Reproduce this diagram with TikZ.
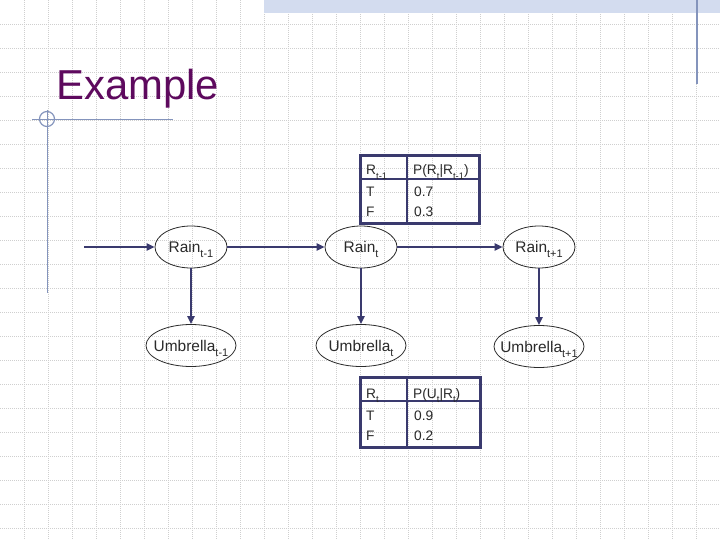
\documentclass[tikz,border=0pt]{standalone}
\usepackage{fontspec}
\setmainfont{Liberation Sans}
\usetikzlibrary{arrows.meta,shapes.geometric}
\definecolor{slidenavy}{HTML}{3A3A6E}
\definecolor{slidepurple}{HTML}{5E0A5E}
\definecolor{slidedeco}{HTML}{8494BC}
\definecolor{slideband}{HTML}{D3DCEF}
\definecolor{slidegrid}{HTML}{CFCFCF}
\definecolor{slideink}{HTML}{2A2A2A}
\newcommand{\tsub}[2][11]{\raisebox{-0.33em}{\fontsize{#1}{#1}\selectfont #2}}

\begin{document}
\begin{tikzpicture}[
  x=1bp, y=-1bp,
  var/.style={ellipse, draw=slideink, line width=0.8bp, text=slideink,
    inner sep=0pt, minimum height=42bp, text depth=0pt,
    font=\fontsize{15.5}{18}\selectfont},
  rainvar/.style={var, minimum width=72bp},
  umbvar/.style={var, minimum width=90bp},
  link/.style={draw=slidenavy, line width=2.2bp, -{Triangle[length=8bp,width=7bp]}},
  cpt/.style={draw=slidenavy, line width=3bp},
  cptrule/.style={draw=slidenavy, line width=2bp},
  cell/.style={anchor=base west, inner sep=0pt, text=slideink,
    font=\fontsize{13.8}{16}\selectfont},
  deco/.style={draw=slidedeco, line width=1.2bp},
  gridline/.style={draw=slidegrid, line width=0.7bp, dash pattern=on 1bp off 1bp},
]

% ===== slide background =====
\useasboundingbox (0,0) rectangle (720,540);
\fill[white] (0,0) rectangle (720,540);
\foreach \gx in {24,48,...,696} \draw[gridline] (\gx,0) -- (\gx,540);
\foreach \gy in {24,48,...,528} \draw[gridline] (0,\gy) -- (720,\gy);
\fill[slideband] (264,0) rectangle (720,13);
\draw[deco] (697,0) -- (697,84);
\draw[deco] (32,119.5) -- (173,119.5);
\draw[deco] (47.5,110) -- (47.5,293);
\draw[deco] (47,119) circle[radius=7.5bp];

% ===== title =====
\node[anchor=base west, inner sep=0pt, text=slidepurple,
  font=\fontsize{42}{48}\selectfont] (title) at (56,100) {Example};

% ===== rain chain =====
\coordinate (prior) at (84,247);
\node[rainvar] (rainA) at (191,247) {\makebox[0pt]{Rain\tsub{t-1}}};
\node[rainvar] (rainB) at (361,247) {\makebox[0pt]{Rain\tsub{t}}};
\node[rainvar] (rainC) at (539,247) {\makebox[0pt]{Rain\tsub{t+1}}};

% ===== umbrella observations =====
\node[umbvar] (umbA) at (191,345.5) {\makebox[0pt]{Umbrella\tsub{t-1}}};
\node[umbvar] (umbB) at (361,345.5) {\makebox[0pt]{Umbrella\tsub{t}}};
\node[umbvar] (umbC) at (539,346.5) {\makebox[0pt]{Umbrella\tsub{t+1}}};

\draw[link] (prior) -- (rainA);
\draw[link] (rainA) -- (rainB);
\draw[link] (rainB) -- (rainC);
\draw[link] (rainA) -- (umbA);
\draw[link] (rainB) -- (umbB);
\draw[link] (rainC) -- (umbC);

% ===== transition table =====
\draw[cpt] (360,156) rectangle (479,224);
\draw[cptrule] (360,179) -- (479,179);
\draw[cptrule] (407,156) -- (407,224);
\node[cell] (transHead) at (366,175) {R\tsub[9.5]{t-1}};
\node[cell] (transProb) at (413,175) {P(R\tsub[9.5]{t}|R\tsub[9.5]{t-1})};
\node[cell] (transT) at (366,197) {T};
\node[cell] (transTv) at (414,197) {0.7};
\node[cell] (transF) at (366,217) {F};
\node[cell] (transFv) at (414,217) {0.3};

% ===== sensor table =====
\draw[cpt] (360,377) rectangle (480,447);
\draw[cptrule] (360,401) -- (480,401);
\draw[cptrule] (407,377) -- (407,447);
\node[cell] (sensHead) at (366,398) {R\tsub[9.5]{t}};
\node[cell] (sensProb) at (413,398) {P(U\tsub[9.5]{t}|R\tsub[9.5]{t})};
\node[cell] (sensT) at (366,420) {T};
\node[cell] (sensTv) at (414,420) {0.9};
\node[cell] (sensF) at (366,440) {F};
\node[cell] (sensFv) at (414,440) {0.2};

\end{tikzpicture}
\end{document}
